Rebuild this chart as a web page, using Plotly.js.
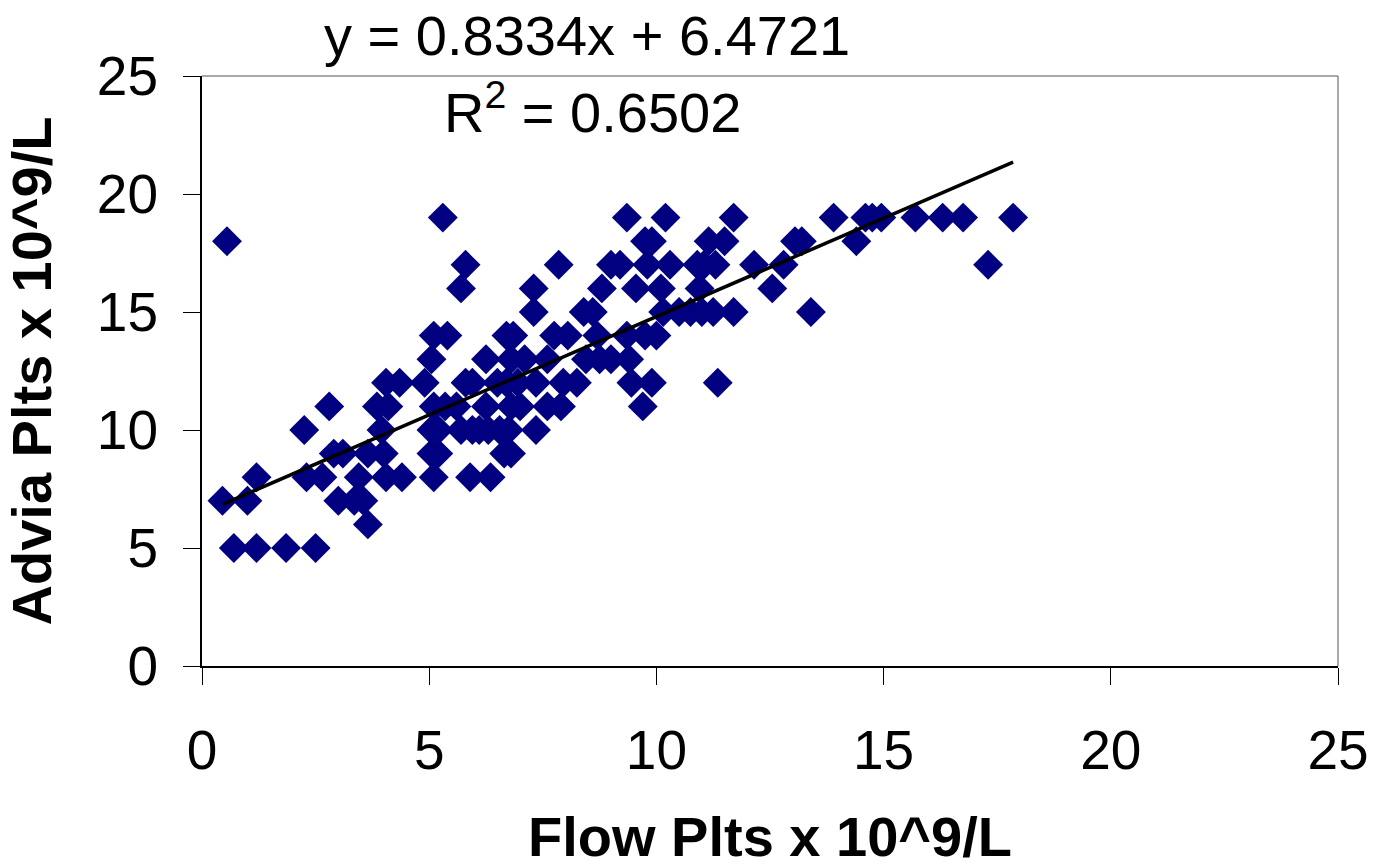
<!DOCTYPE html>
<html>
<head>
<meta charset="utf-8">
<script src="https://cdn.plot.ly/plotly-3.0.1.min.js"></script>
<style>html,body{margin:0;padding:0;background:#fff;}#chart{width:1376px;height:868px;}</style>
</head>
<body>
<div id="chart"></div>
<script>
// Flow platelet counts (x) and Advia platelet counts (y), x 10^9/L
const flowPlts = [
  5.3, 9.35, 10.2, 11.7, 13.9, 14.6, 14.75, 14.95, 15.7, 16.3, 16.75, 17.85,
  0.55, 9.75, 9.9, 11.15, 11.5, 13.05, 13.2, 14.4,
  5.8, 7.85, 9.0, 9.2, 9.8, 10.3, 10.9, 11.05, 11.3, 12.15, 12.8, 17.3,
  5.7, 7.3, 8.8, 9.55, 10.1, 10.95, 12.55,
  7.3, 8.4, 8.6, 10.15, 10.5, 10.75, 11.0, 11.25, 11.7, 13.4,
  5.1, 5.4, 6.7, 6.85, 7.75, 8.05, 8.7, 9.35, 9.75, 10.0,
  5.05, 6.25, 6.8, 7.1, 7.6, 8.45, 8.75, 9.0, 9.4,
  4.05, 4.35, 4.9, 5.8, 5.95, 6.5, 6.7, 6.95, 7.35, 7.95, 8.25, 9.45, 9.9, 11.35,
  2.8, 3.85, 4.1, 5.1, 5.35, 5.6, 6.25, 6.8, 7.0, 7.6, 7.9, 9.7,
  2.25, 3.95, 5.05, 5.2, 5.7, 5.95, 6.1, 6.3, 6.55, 6.75, 7.35,
  2.9, 3.1, 3.65, 4.0, 5.05, 5.2, 6.65, 6.8,
  1.2, 2.3, 2.65, 3.45, 4.05, 4.4, 5.1, 5.9, 6.35,
  0.45, 1.0, 3.0, 3.35, 3.55,
  3.65,
  0.7, 1.2, 1.85, 2.5
];
const adviaPlts = [
  19, 19, 19, 19, 19, 19, 19, 19, 19, 19, 19, 19,
  18, 18, 18, 18, 18, 18, 18, 18,
  17, 17, 17, 17, 17, 17, 17, 17, 17, 17, 17, 17,
  16, 16, 16, 16, 16, 16, 16,
  15, 15, 15, 15, 15, 15, 15, 15, 15, 15,
  14, 14, 14, 14, 14, 14, 14, 14, 14, 14,
  13, 13, 13, 13, 13, 13, 13, 13, 13,
  12, 12, 12, 12, 12, 12, 12, 12, 12, 12, 12, 12, 12, 12,
  11, 11, 11, 11, 11, 11, 11, 11, 11, 11, 11, 11,
  10, 10, 10, 10, 10, 10, 10, 10, 10, 10, 10,
  9, 9, 9, 9, 9, 9, 9, 9,
  8, 8, 8, 8, 8, 8, 8, 8, 8,
  7, 7, 7, 7, 7,
  6,
  5, 5, 5, 5
];
// Linear trendline as stated on the chart
const slope = 0.8334;
const intercept = 6.4721;
const rSquared = 0.6502;
const xTicks = [0, 5, 10, 15, 20, 25];
const yTicks = [0, 5, 10, 15, 20, 25];

const xMin = Math.min(...flowPlts), xMax = Math.max(...flowPlts);
const trendX = [xMin, xMax];
const trendY = trendX.map(v => slope * v + intercept);

const FONT = 'Liberation Sans, Arial, sans-serif';

const traces = [
  {
    x: flowPlts, y: adviaPlts, type: 'scatter', mode: 'markers',
    marker: {symbol: 'diamond', size: 23, color: '#000080', line: {width: 0}},
    showlegend: false, hoverinfo: 'x+y'
  },
  {
    x: trendX, y: trendY, type: 'scatter', mode: 'lines',
    line: {color: '#000000', width: 3.5},
    showlegend: false, hoverinfo: 'skip'
  }
];

const layout = {
  width: 1376, height: 868,
  margin: {l: 202, r: 38, t: 76, b: 202},
  paper_bgcolor: '#ffffff', plot_bgcolor: '#ffffff',
  font: {family: FONT, color: '#000000', size: 55},
  showlegend: false,
  xaxis: {
    range: [0, 25], tickvals: xTicks, ticktext: xTicks.map(String),
    showgrid: false, zeroline: false,
    showline: true, linecolor: '#000000', linewidth: 2,
    ticks: 'outside', ticklen: 17, tickwidth: 1, tickcolor: '#000000',
    ticklabelstandoff: 18,
    tickfont: {family: FONT, size: 55, color: '#000000'},
    title: {text: '<b>Flow Plts x 10^9/L</b>', font: {family: FONT, size: 56, color: '#000000'}, standoff: 46}
  },
  yaxis: {
    range: [0, 25], tickvals: yTicks, ticktext: yTicks.map(String),
    showgrid: false, zeroline: false,
    showline: true, linecolor: '#000000', linewidth: 2,
    ticks: 'outside', ticklen: 17, tickwidth: 1, tickcolor: '#000000',
    ticklabelstandoff: 14,
    tickfont: {family: FONT, size: 55, color: '#000000'},
    title: {text: '<b>Advia Plts x 10^9/L</b>', font: {family: FONT, size: 56, color: '#000000'}, standoff: 30}
  },
  shapes: [
    {type: 'line', xref: 'paper', yref: 'paper', x0: 0, x1: 1, y0: 1, y1: 1, line: {color: '#555555', width: 1}},
    {type: 'line', xref: 'paper', yref: 'paper', x0: 1, x1: 1, y0: 0, y1: 1, line: {color: '#555555', width: 1}}
  ],
  annotations: [
    {xref: 'paper', yref: 'paper', x: (587 - 202) / 1136, y: (666 - 35) / 590, xanchor: 'center', yanchor: 'middle',
     text: 'y = ' + slope.toFixed(4) + 'x + ' + intercept.toFixed(4), showarrow: false,
     font: {family: FONT, size: 56, color: '#000000'}},
    {xref: 'paper', yref: 'paper', x: (592 - 202) / 1136, y: (666 - 108) / 590, xanchor: 'center', yanchor: 'middle',
     text: 'R<sup>2</sup> = ' + rSquared.toFixed(4), showarrow: false,
     font: {family: FONT, size: 56, color: '#000000'}}
  ]
};

Plotly.newPlot('chart', traces, layout, {displayModeBar: false, staticPlot: true});
</script>
</body>
</html>
